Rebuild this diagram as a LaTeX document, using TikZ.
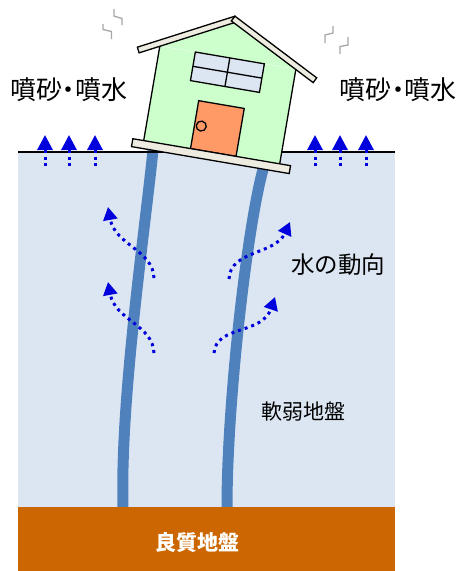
\documentclass[tikz,border=0pt]{standalone}
\usepackage{fontspec}
\setmainfont{Noto Sans CJK JP}
\newfontfamily\jpprop[RawFeature=+palt]{Noto Sans CJK JP}
\usetikzlibrary{arrows.meta}
\definecolor{liqSuelo}{HTML}{DCE6F2}
\definecolor{liqRoca}{HTML}{CC6600}
\definecolor{liqPilote}{HTML}{4F81BD}
\definecolor{liqAgua}{HTML}{0000DD}
\definecolor{liqMuro}{HTML}{CCFFCC}
\definecolor{liqPuerta}{HTML}{FF9966}
\definecolor{liqTabla}{HTML}{EEECE1}
\definecolor{liqGris}{HTML}{A6A6A6}

\begin{document}
\begin{tikzpicture}[x=1pt, y=-1pt,
    chorro/.style={liqAgua, line width=3pt, dash pattern=on 3pt off 3.5pt,
      -{Triangle[width=15pt,length=15pt]}},
    flujo/.style={liqAgua, line width=3pt, dash pattern=on 3pt off 4pt,
      -{Triangle[width=14pt,length=13pt]}},
    pilote/.style={liqPilote, line width=11pt},
    temblor/.style={liqGris, line width=1.3pt},
    casa/.style={draw=black, line width=1.3pt},
    rotulo/.style={font=\fontsize{23.5}{26}\selectfont}]
      \useasboundingbox (0,0) rectangle (461,571);
      % suelo blando y pilotes
      \fill[liqSuelo] (18,152) rectangle (395,507);
      \draw[pilote] (153,150) .. controls (145,230) and (120,400) .. (123,507);
      \draw[pilote] (264,166) .. controls (248,220) and (227,400) .. (227,507);
      \fill[liqRoca] (18,507) rectangle (395,571);
      \draw[line width=1.5pt] (18,152) -- (395,152);
      % arena y agua que salen
      \foreach \x in {45,69,95,315,340,366}
        \draw[chorro] (\x,166) -- (\x,135);
      \draw[flujo] (154,278) .. controls (153,250) and (115,245) .. (108,207);
      \draw[flujo] (154,353) .. controls (153,325) and (115,320) .. (108,282);
      \draw[flujo] (229,279) .. controls (230,250) and (275,255) .. (290,222);
      \draw[flujo] (214,353) .. controls (216,325) and (262,335) .. (275,297);
      % sacudidas
      \draw[temblor] (114,9) -- (114,16) -- (122,18.5) -- (122,25);
      \draw[temblor] (103,24) -- (103,29.5) -- (111.5,31.5) -- (111.5,39);
      \draw[temblor] (333,26) -- (333,33) -- (325,35) -- (325,43);
      \draw[temblor] (348,37) -- (348,45) -- (340,46.5) -- (340,54);
      % casa inclinada
      \begin{scope}[shift={(211.7,152.2)}, rotate=-9.7, yscale=-1]
        \fill[liqMuro] (-69,0) rectangle (69,96);
        \fill[liqMuro] (-69,96) -- (0,132) -- (69,96) -- cycle;
        \draw[white, very thin] (-69,96) -- (69,96);
        \draw[casa] (-69,96) -- (-69,0) (69,0) -- (69,96);
        \filldraw[casa, fill=liqSuelo] (-33,67) rectangle (37,96);
        \draw[casa] (2,67) -- (2,96) (-33,81.5) -- (37,81.5);
        \filldraw[casa, fill=liqPuerta] (-21.5,0) rectangle (24.7,48.6);
        \filldraw[casa, fill=liqPuerta] (-14.7,24) circle (5);
        \filldraw[casa, fill=liqTabla] (0,138) -- (-91,91) -- (-88.3,85.7) -- (2.75,132.7) -- cycle;
        \filldraw[casa, fill=liqTabla] (0,138) -- (91,91) -- (88.3,85.7) -- (-2.75,132.7) -- cycle;
        \filldraw[casa, fill=liqTabla] (-80,-8) rectangle (80,0);
      \end{scope}
      \node[rotulo, font=\jpprop\fontsize{26}{29}\selectfont] (arenaIzq) at (69,90) {噴砂・噴水};
      \node[rotulo, font=\jpprop\fontsize{26}{29}\selectfont] (arenaDer) at (398,90) {噴砂・噴水};
      \node[rotulo] (agua) at (338,265) {水の動向};
      \node[rotulo, font=\fontsize{21}{24}\selectfont] (blando) at (303,412) {軟弱地盤};
      \node[text=white, font=\fontsize{21}{24}\selectfont\bfseries] (firme) at (197,543) {良質地盤};
    \end{tikzpicture}
\end{document}
